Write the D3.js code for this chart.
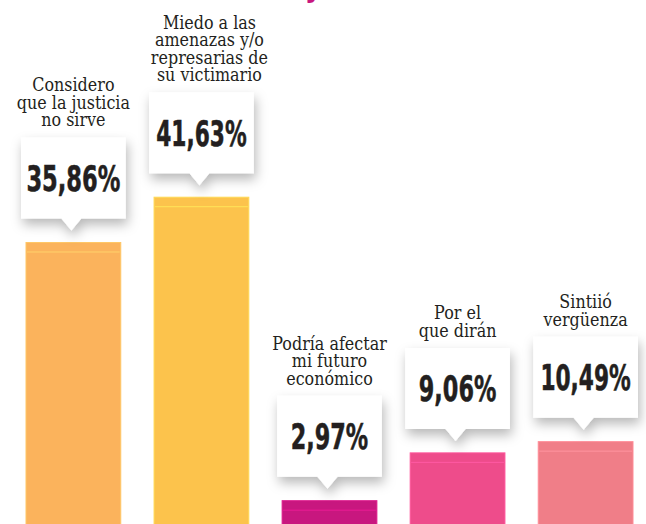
<!DOCTYPE html>
<html>
<head>
<meta charset="utf-8">
<script src="https://cdn.jsdelivr.net/npm/d3@7"></script>
<style>
  html, body { margin: 0; padding: 0; background: #fff; overflow: hidden; }
  .label { font-family: "DejaVu Serif", "Liberation Serif", serif; fill: #231f20; }
  .value { font-family: "DejaVu Sans", "Roboto", sans-serif; font-weight: bold; fill: #231f20; }
</style>
</head>
<body>
<div id="chart"></div>
<script>

// data
var categories = ["justicia", "miedo", "futuro", "dirán", "vergüenza"];
var values = [35.86, 41.63, 2.97, 9.06, 10.49];
var labels = [
  ["Considero", "que la justicia", "no sirve"],
  ["Miedo a las", "amenazas y/o", "represarias de", "su victimario"],
  ["Podría afectar", "mi futuro", "económico"],
  ["Por el", "que dirán"],
  ["Sintiió", "vergüenza"]
];
var colors = ["#fbb35c", "#fcc34c", "#c8177f", "#ee4c8b", "#f07e88"];

var width = 646, height = 524;

var svg = d3.select("#chart").append("svg")
  .attr("width", width)
  .attr("height", height);

// shadow for the callouts
var defs = svg.append("defs");
var f = defs.append("filter").attr("id", "shadow")
  .attr("x", "-30%").attr("y", "-30%").attr("width", "160%").attr("height", "170%");
f.append("feDropShadow")
  .attr("dx", 2).attr("dy", 6)
  .attr("stdDeviation", 6)
  .attr("flood-color", "#000")
  .attr("flood-opacity", 0.28);

// cut-off title descender at the very top
svg.append("text")
  .attr("x", 314)
  .attr("y", -4)
  .attr("text-anchor", "middle")
  .style("font-family", "Roboto, sans-serif")
  .style("font-weight", "bold")
  .style("font-size", "34px")
  .style("fill", "#c8177f")
  .text("y");

var x = d3.scaleBand()
  .domain(categories)
  .range([26, 633])
  .paddingInner(0.26)
  .paddingOuter(0);

var y = d3.scaleLinear()
  .domain([0, 60])
  .range([524, 524 - 60 * 7.85]);

var fmt = function(v) { return d3.format(".2f")(v).replace(".", ",") + "%"; };

// how wide the heavy condensed numbers are in the picture
var numWidth = function(s) {
  var w = 0;
  s.split("").forEach(function(c) {
    if (c == ",") w += 7;
    else if (c == "%") w += 21;
    else if (c == "1") w += 13;
    else w += 16.5;
  });
  return w;
};

var data = categories.map(function(c, i) {
  return { cat: c, value: values[i], lines: labels[i], color: colors[i] };
});

var g = svg.selectAll(".bar")
  .data(data)
  .enter().append("g")
  .attr("class", "bar");

// bars
g.append("rect")
  .attr("x", function(d) { return x(d.cat); })
  .attr("y", function(d) { return y(d.value); })
  .attr("width", x.bandwidth())
  .attr("height", function(d) { return y(0) - y(d.value) + 2; })
  .attr("fill", function(d) { return d.color; })
  .attr("stroke", function(d) { return d3.color(d.color).brighter(0.3); })
  .attr("stroke-width", 1);

// the light stripe near the top of each bar
g.append("line")
  .attr("x1", function(d) { return x(d.cat) + 1; })
  .attr("x2", function(d) { return x(d.cat) + x.bandwidth() - 1; })
  .attr("y1", function(d) { return y(d.value) + 9.5; })
  .attr("y2", function(d) { return y(d.value) + 9.5; })
  .attr("stroke", function(d) { return d3.color(d.color).brighter(0.45); })
  .attr("stroke-width", 1);

// callout box with pointer
var boxH = 81, gap = 24, tri = 10, triH = 12, pad = 5;
g.append("path")
  .attr("filter", "url(#shadow)")
  .attr("fill", "#fff")
  .attr("d", function(d) {
    var x0 = x(d.cat) - pad, x1 = x(d.cat) + x.bandwidth() + pad;
    var cx = x(d.cat) + x.bandwidth() / 2 - 2;
    var b = y(d.value) - gap, t = b - boxH;
    return "M" + x0 + "," + t + "H" + x1 + "V" + b +
      "H" + (cx + tri) + "L" + cx + "," + (b + triH) + "L" + (cx - tri) + "," + b +
      "H" + x0 + "Z";
  });

// value text, squeezed horizontally after measuring
var vg = g.append("g");
vg.append("text")
  .attr("class", "value")
  .attr("text-anchor", "middle")
  .style("font-size", "36px")
  .style("stroke", "#231f20")
  .style("stroke-width", "0.6px")
  .text(function(d) { return fmt(d.value); });

vg.attr("transform", function(d) {
  var natural = this.querySelector("text").getComputedTextLength();
  var k = numWidth(fmt(d.value)) / natural;
  var cx = x(d.cat) + x.bandwidth() / 2;
  var cy = y(d.value) - gap - boxH / 2 + 13;
  return "translate(" + cx + "," + cy + ") scale(" + k + ",1)";
});

// category labels above the box, squeezed a bit horizontally
g.append("g")
  .attr("transform", function(d) {
    var cx = x(d.cat) + x.bandwidth() / 2 + (d.lines.length > 3 ? 8 : 0);
    return "translate(" + cx + ",0) scale(0.84,1)";
  })
  .append("text")
  .attr("class", "label")
  .attr("text-anchor", "middle")
  .style("font-size", "19px")
  .each(function(d) {
    var t = d3.select(this);
    var last = y(d.value) - gap - boxH - 11;
    d.lines.forEach(function(line, j) {
      t.append("tspan")
        .attr("x", 0)
        .attr("y", last - (d.lines.length - 1 - j) * 17.5)
        .text(line);
    });
  });

</script>
</body>
</html>
